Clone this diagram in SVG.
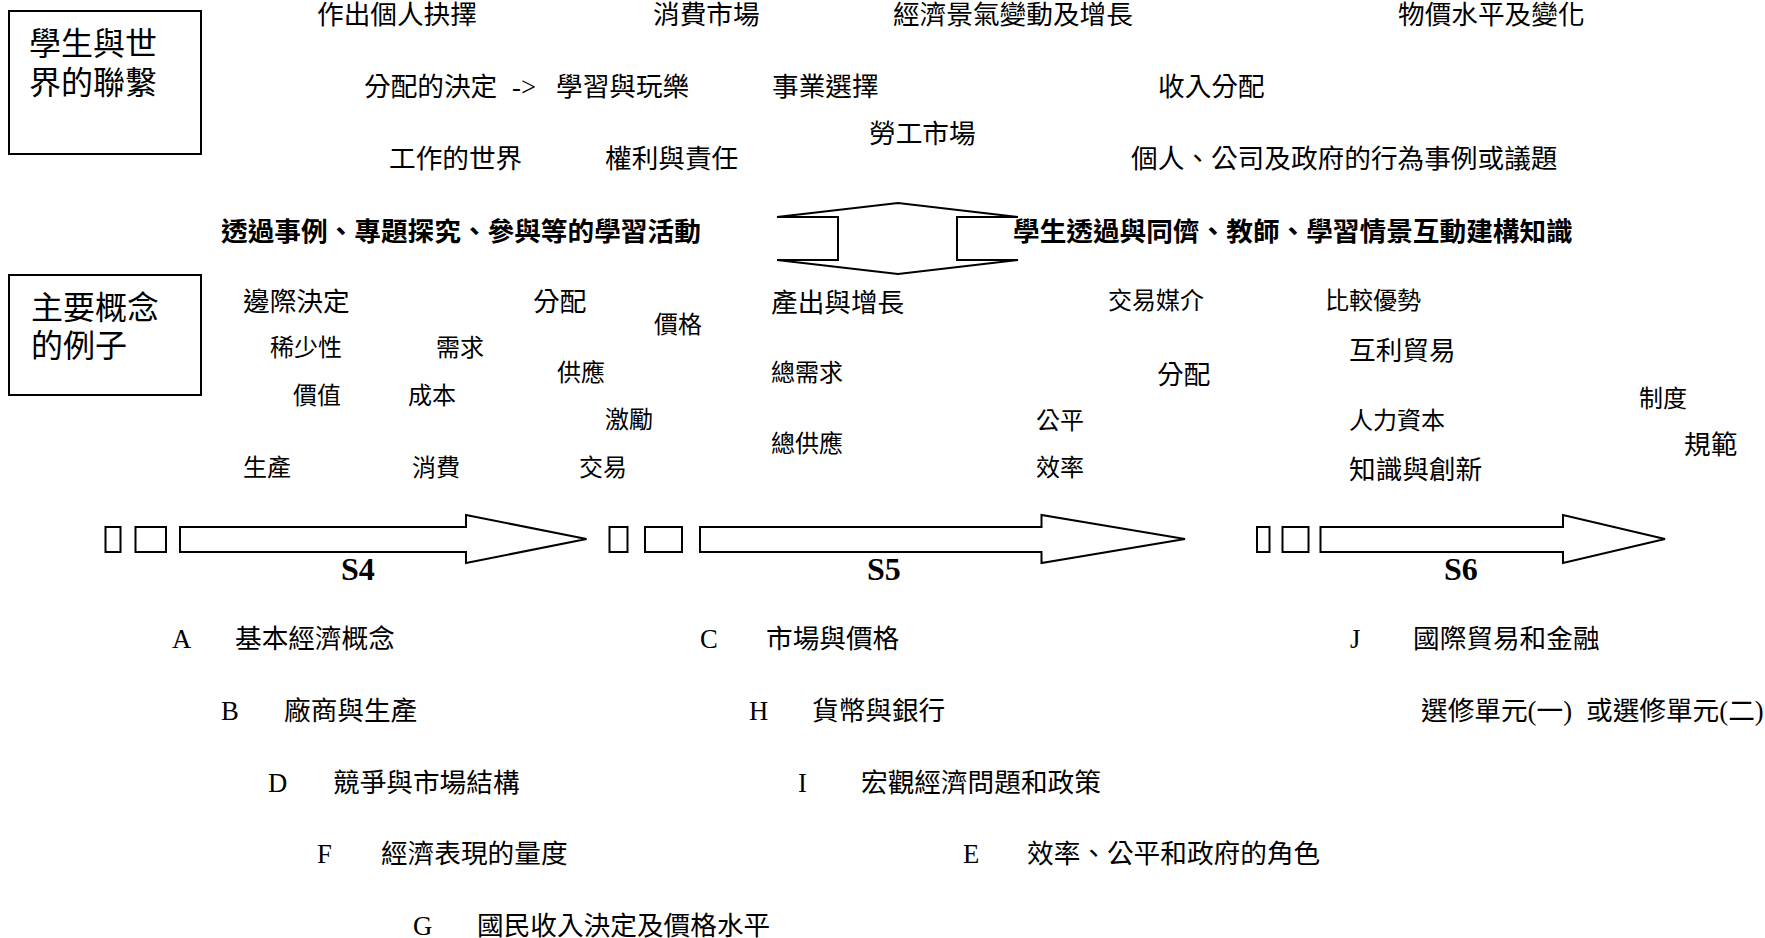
<svg xmlns="http://www.w3.org/2000/svg" width="1765" height="938" viewBox="0 0 1765 938">
<style>
text { font-family: "Liberation Serif", "Noto Sans CJK TC", serif; font-size: 26.67px; fill: #000; }
.s { font-size: 24px; }
.big { font-size: 32px; }
.b { font-weight: bold; }
.lbl { font-family: "Liberation Serif", serif; font-weight: bold; font-size: 32px; }
.shape { fill: #fff; stroke: #000; stroke-width: 2; }
</style>
<rect width="1765" height="938" fill="#fff"/>

<g id="box-world">
<rect class="shape" x="9" y="11" width="192" height="143"/>
<text class="big" x="29" y="55">學生與世</text>
<text class="big" x="29" y="94">界的聯繫</text>
</g>

<g id="box-concepts">
<rect class="shape" x="9" y="275" width="192" height="120"/>
<text class="big" x="31" y="319">主要概念</text>
<text class="big" x="31" y="357">的例子</text>
</g>

<g id="world-links">
<text x="317" y="24">作出個人抉擇</text>
<text x="653" y="24">消費市場</text>
<text x="893" y="24">經濟景氣變動及增長</text>
<text x="1398" y="24">物價水平及變化</text>
<text x="364" y="96">分配的決定</text>
<text x="512" y="96">-&gt;</text>
<text x="556" y="96">學習與玩樂</text>
<text x="772" y="96">事業選擇</text>
<text x="1158" y="96">收入分配</text>
<text x="869" y="143">勞工市場</text>
<text x="389" y="168">工作的世界</text>
<text x="605" y="168">權利與責任</text>
<text x="1131" y="168">個人、公司及政府的行為事例或議題</text>
</g>

<g id="interaction">
<polygon class="shape" points="777,217 898,203 1018,217 957,217 957,260 1018,260 898,274 777,260 838,260 838,217"/>
<text class="b" x="221" y="241">透過事例、專題探究、參與等的學習活動</text>
<text class="b" x="1013" y="241">學生透過與同儕、教師、學習情景互動建構知識</text>
</g>

<g id="concepts">
<text x="243" y="311">邊際決定</text>
<text x="533" y="311">分配</text>
<text class="s" x="654" y="333">價格</text>
<text x="771" y="312">產出與增長</text>
<text class="s" x="1108" y="309">交易媒介</text>
<text class="s" x="1325" y="309">比較優勢</text>
<text class="s" x="270" y="356">稀少性</text>
<text class="s" x="436" y="356">需求</text>
<text class="s" x="557" y="381">供應</text>
<text class="s" x="771" y="381">總需求</text>
<text x="1157" y="384">分配</text>
<text x="1349" y="360">互利貿易</text>
<text class="s" x="293" y="404">價值</text>
<text class="s" x="408" y="404">成本</text>
<text class="s" x="605" y="428">激勵</text>
<text class="s" x="771" y="452">總供應</text>
<text class="s" x="1036" y="429">公平</text>
<text class="s" x="1349" y="429">人力資本</text>
<text class="s" x="1639" y="407">制度</text>
<text class="s" x="243" y="476">生產</text>
<text class="s" x="412" y="476">消費</text>
<text class="s" x="579" y="476">交易</text>
<text class="s" x="1036" y="476">效率</text>
<text x="1349" y="479">知識與創新</text>
<text x="1684" y="454">規範</text>
</g>

<g id="connectors">
<g id="arrow-s4">
<rect class="shape" x="105.5" y="527" width="15" height="25"/>
<rect class="shape" x="135.5" y="527" width="30.5" height="25"/>
<polygon class="shape" points="180,527 466,527 466,515 586.5,539 466,563 466,552 180,552"/>
<text class="lbl" x="341" y="580">S4</text>
</g>
<g id="arrow-s5">
<rect class="shape" x="609.5" y="527" width="18" height="25"/>
<rect class="shape" x="645" y="527" width="37" height="25"/>
<polygon class="shape" points="700,527 1041.5,527 1041.5,515 1185,539 1041.5,563 1041.5,552 700,552"/>
<text class="lbl" x="867" y="580">S5</text>
</g>
<g id="arrow-s6">
<rect class="shape" x="1257" y="527" width="12.5" height="25"/>
<rect class="shape" x="1282.5" y="527" width="26" height="25"/>
<polygon class="shape" points="1320.5,527 1563,527 1563,515 1665,539 1563,563 1563,552 1320.5,552"/>
<text class="lbl" x="1444" y="580">S6</text>
</g>
</g>

<g id="modules">
<text x="172" y="648">A</text>
<text x="235" y="648">基本經濟概念</text>
<text x="221" y="720">B</text>
<text x="284" y="720">廠商與生產</text>
<text x="268" y="792">D</text>
<text x="333" y="792">競爭與市場結構</text>
<text x="317" y="863">F</text>
<text x="381" y="863">經濟表現的量度</text>
<text x="413" y="935">G</text>
<text x="477" y="935">國民收入決定及價格水平</text>
<text x="700" y="648">C</text>
<text x="766" y="648">市場與價格</text>
<text x="749" y="720">H</text>
<text x="812" y="720">貨幣與銀行</text>
<text x="798" y="792">I</text>
<text x="861" y="792">宏觀經濟問題和政策</text>
<text x="963" y="863">E</text>
<text x="1027" y="863">效率、公平和政府的角色</text>
<text x="1350" y="648">J</text>
<text x="1413" y="648">國際貿易和金融</text>
<text x="1421" y="720">選修單元(一)</text>
<text x="1586" y="720">或選修單元(二)</text>
</g>
</svg>
